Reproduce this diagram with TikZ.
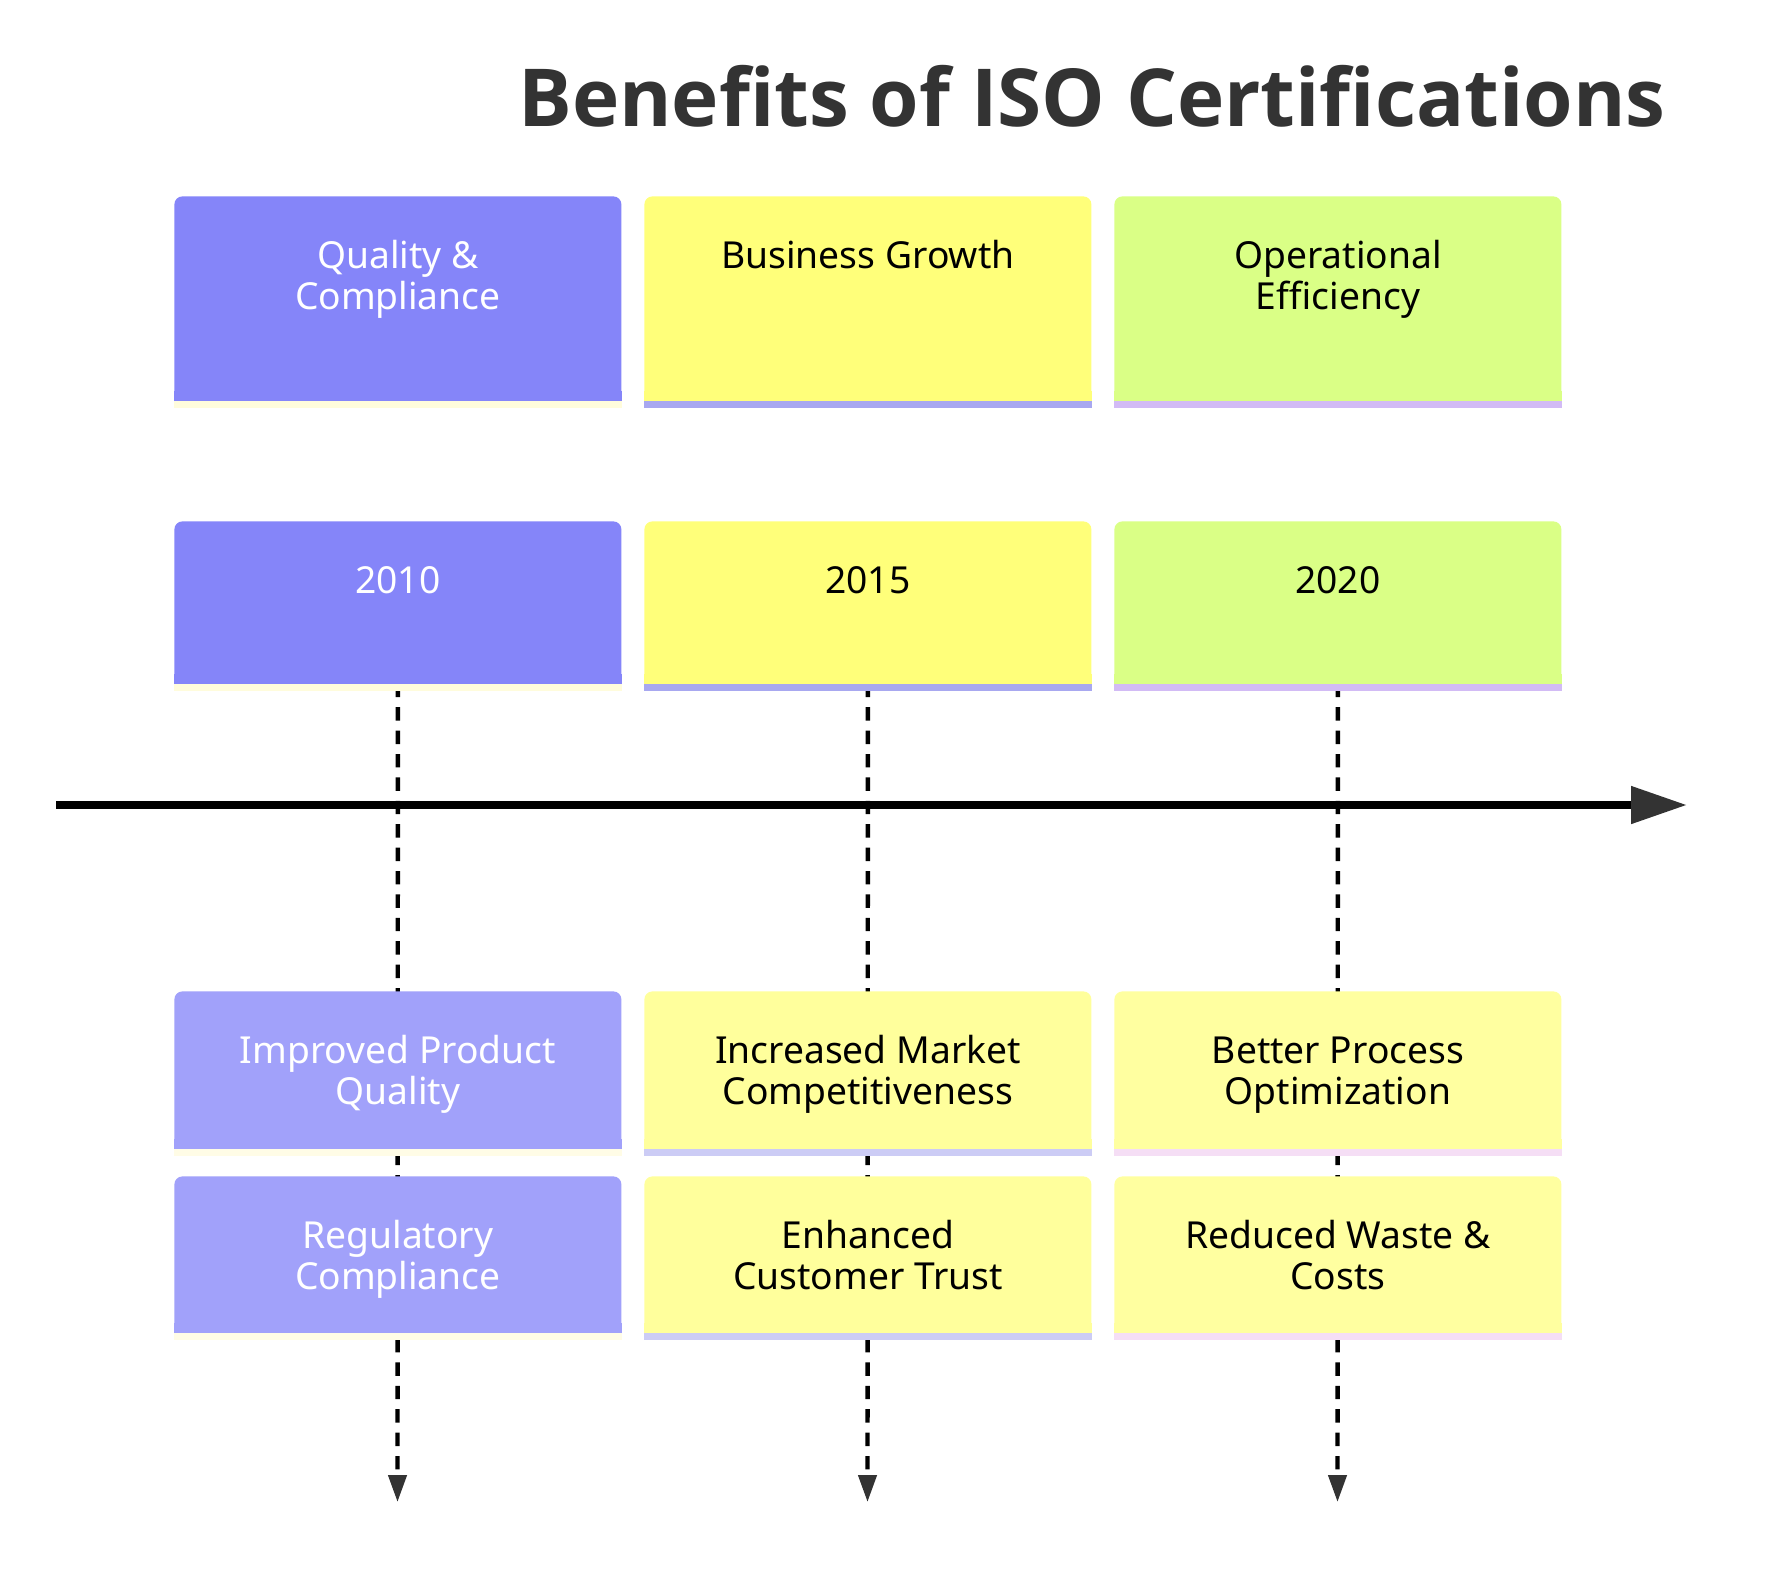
\documentclass[tikz,border=0pt]{standalone}
\usepackage{fontspec}
\setmainfont{Noto Sans}
\newfontfamily\titlefont{Open Sans}
\usetikzlibrary{arrows.meta}
\definecolor{blueA}{HTML}{8585F9}
\definecolor{blueB}{HTML}{A1A1FA}
\definecolor{yelA}{HTML}{FFFF7A}
\definecolor{yelB}{HTML}{FFFF9C}
\definecolor{grnA}{HTML}{DAFF86}
\definecolor{yelC}{HTML}{FFFFA0}
\definecolor{stBlueA}{HTML}{FFFCDC}
\definecolor{stYelA}{HTML}{A8A8F0}
\definecolor{stGrnA}{HTML}{D2BBF5}
\definecolor{stBlueB}{HTML}{FFFCE6}
\definecolor{stYelB}{HTML}{CCCCF5}
\definecolor{stYelC}{HTML}{F5DEF5}
\definecolor{darkgray}{HTML}{333333}
\pgfdeclarelayer{bg}
\pgfsetlayers{bg,main}
\tikzset{
  boxshape/.style={rectangle, minimum width=223.5pt, inner sep=0pt, rounded corners=4pt, anchor=north west},
  lbl/.style={anchor=north, inner sep=0pt, align=center, font=\fontsize{18.6pt}{20.5pt}\selectfont},
  lightlbl/.style={lbl, text=white},
  darklbl/.style={lbl, text=black},
  guide/.style={dashed, dash pattern=on 6.7pt off 5pt, line width=2.2pt, black, -{Triangle[length=13.5pt, width=9pt, color=darkgray]}},
  axis/.style={line width=4pt, black, -{Triangle[length=28pt, width=18pt, color=darkgray]}}
}
% name, x-left, y-top, height(px), fill, stripe
\newcommand\tlbox[6]{%
  \node[boxshape, fill=#5, minimum height=#4*0.5pt] (#1) at (#2,#3) {};
  \fill[#5] ([yshift=5pt]#1.south west) rectangle (#1.south east);
  \fill[#6] (#1.south west) rectangle ([yshift=-3.5pt]#1.south east);
}
\newcommand\st{\rule{0pt}{36pt}}
\begin{document}
\begin{tikzpicture}[x=0.5pt, y=-0.5pt]
\useasboundingbox (0,0) rectangle (1768,1570);
\begin{pgfonlayer}{bg}
\fill[white] (0,0) rectangle (1768,1570);
\end{pgfonlayer}

\node[anchor=base, inner sep=0pt, text=darkgray, font=\titlefont\bfseries\fontsize{40pt}{48pt}\selectfont] (title) at (1092,126) {Benefits of ISO Certifications};

% row 1: sections
\tlbox{s1}{174}{196}{204}{blueA}{stBlueA}
\tlbox{s2}{644}{196}{204}{yelA}{stYelA}
\tlbox{s3}{1114}{196}{204}{grnA}{stGrnA}
\node[lightlbl] (ts1) at (s1.north) {\st Quality \&\\Compliance};
\node[darklbl] (ts2) at (s2.north) {\st Business Growth};
\node[darklbl] (ts3) at (s3.north) {\st Operational\\Efficiency};

% row 2: periods
\tlbox{p1}{174}{521}{162}{blueA}{stBlueA}
\tlbox{p2}{644}{521}{162}{yelA}{stYelA}
\tlbox{p3}{1114}{521}{162}{grnA}{stGrnA}
\node[lightlbl] (tp1) at (p1.north) {\st 2010};
\node[darklbl] (tp2) at (p2.north) {\st 2015};
\node[darklbl] (tp3) at (p3.north) {\st 2020};

% row 3: events
\tlbox{ea1}{174}{991}{157}{blueB}{stBlueB}
\tlbox{ea2}{644}{991}{157}{yelB}{stYelB}
\tlbox{ea3}{1114}{991}{157}{yelC}{stYelC}
\node[lightlbl] (tea1) at (ea1.north) {\st Improved Product\\Quality};
\node[darklbl] (tea2) at (ea2.north) {\st Increased Market\\Competitiveness};
\node[darklbl] (tea3) at (ea3.north) {\st Better Process\\Optimization};

% row 4: events
\tlbox{eb1}{174}{1176}{156}{blueB}{stBlueB}
\tlbox{eb2}{644}{1176}{156}{yelB}{stYelB}
\tlbox{eb3}{1114}{1176}{156}{yelC}{stYelC}
\node[lightlbl] (teb1) at (eb1.north) {\st Regulatory\\Compliance};
\node[darklbl] (teb2) at (eb2.north) {\st Enhanced\\Customer Trust};
\node[darklbl] (teb3) at (eb3.north) {\st Reduced Waste \&\\Costs};

% guide lines (behind boxes)
\coordinate (g1) at (397.5,1502);
\coordinate (g2) at (867.5,1502);
\coordinate (g3) at (1337.5,1502);
\begin{pgfonlayer}{bg}
\draw[guide] (p1.south) -- (g1);
\draw[guide] (p2.south) -- (g2);
\draw[guide] (p3.south) -- (g3);
\end{pgfonlayer}

% time axis
\coordinate (axL) at (56,805);
\coordinate (axR) at (1687,805);
\draw[axis] (axL) -- (axR);
\end{tikzpicture}
\end{document}
